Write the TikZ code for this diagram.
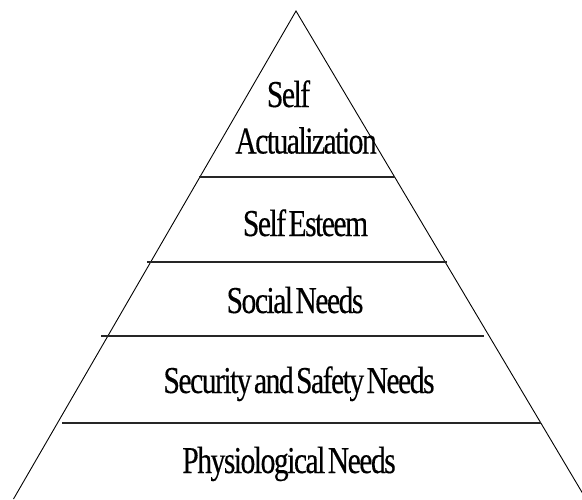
\documentclass[tikz,border=0pt]{standalone}
\usepackage{fontspec}
\newfontfamily\pyrfont[FakeStretch=0.78, LetterSpace=-4, WordSpace=0.4, FakeBold=0.3]{Liberation Serif}
\usetikzlibrary{calc}
\tikzset{
	lbl/.style={anchor=base, inner sep=0pt, font=\pyrfont\fontsize{38}{42}\selectfont},
	tier/.style={line width=1.3pt, black!85}
}

\begin{document}
\begin{tikzpicture}[x=1pt, y=-1pt, line width=0.9pt]
		\useasboundingbox (0,0) rectangle (582,499);

		\coordinate (apex) at (296,11);
		\coordinate (baseL) at (13.5,499);
		\coordinate (baseR) at (586,499);
		\draw (baseL) -- (apex) -- (baseR);

		\draw[tier] (199,177) -- (395,177);
		\draw[tier] (147,262) -- (447,262);
		\draw[tier] (101,336) -- (484,336);
		\draw[tier] (62,423) -- (541,423);

		\node[lbl] (self) at (288.5,107) {Self};
		\node[lbl] (actual) at (306,153.5) {Actualization};
		\node[lbl] (esteem) at (305.5,236) {Self Esteem};
		\node[lbl] (social) at (295,313) {Social Needs};
		\node[lbl] (safety) at (299,393) {Security and Safety Needs};
		\node[lbl] (physio) at (289,473) {Physiological Needs};
	\end{tikzpicture}
\end{document}
